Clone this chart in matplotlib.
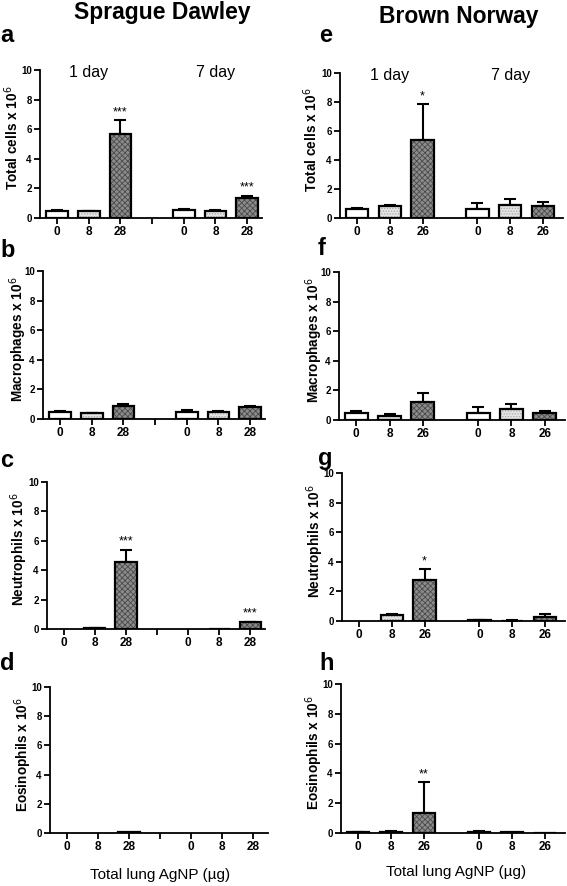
import matplotlib
matplotlib.use("Agg")
import matplotlib.pyplot as plt
import numpy as np

plt.rcParams['font.family'] = ['Liberation Sans', 'DejaVu Sans']
plt.rcParams['hatch.linewidth'] = 0.6

W, H = 567, 886

# ---------------- data ----------------
doses_sd = ["0", "8", "28"]
doses_bn = ["0", "8", "26"]

# Sprague Dawley (day1 x3, day7 x3)
sd_total = [0.5, 0.45, 5.7, 0.55, 0.5, 1.35]
sd_total_err = [0.05, 0.03, 0.9, 0.07, 0.04, 0.15]
sd_total_sig = ["", "", "***", "", "", "***"]

sd_macro = [0.5, 0.4, 0.9, 0.5, 0.45, 0.8]
sd_macro_err = [0.05, 0.03, 0.12, 0.08, 0.06, 0.08]
sd_macro_sig = ["", "", "", "", "", ""]

sd_neut = [0.0, 0.05, 4.55, 0.0, 0.02, 0.45]
sd_neut_err = [0.0, 0.03, 0.85, 0.0, 0.01, 0.06]
sd_neut_sig = ["", "", "***", "", "", "***"]

sd_eos = [0.0, 0.0, 0.05, 0.0, 0.0, 0.0]
sd_eos_err = [0.0, 0.0, 0.01, 0.0, 0.0, 0.0]
sd_eos_sig = ["", "", "", "", "", ""]

# Brown Norway
bn_total = [0.6, 0.8, 5.4, 0.65, 0.9, 0.85]
bn_total_err = [0.08, 0.12, 2.45, 0.4, 0.4, 0.25]
bn_total_sig = ["", "", "*", "", "", ""]

bn_macro = [0.5, 0.3, 1.2, 0.5, 0.75, 0.5]
bn_macro_err = [0.1, 0.08, 0.65, 0.4, 0.35, 0.12]
bn_macro_sig = ["", "", "", "", "", ""]

bn_neut = [0.0, 0.4, 2.75, 0.05, 0.03, 0.25]
bn_neut_err = [0.0, 0.05, 0.75, 0.03, 0.03, 0.2]
bn_neut_sig = ["", "", "*", "", "", ""]

bn_eos = [0.05, 0.08, 1.35, 0.08, 0.05, 0.02]
bn_eos_err = [0.03, 0.04, 2.05, 0.04, 0.02, 0.02]
bn_eos_sig = ["", "", "**", "", "", ""]

ylabels = ["Total cells x 10$^{6}$", "Macrophages x 10$^{6}$",
           "Neutrophils x 10$^{6}$", "Eosinophils x 10$^{6}$"]

pos_sd = [0, 1, 2, 4, 5, 6]
pos_bn = [0, 1, 2, 3.67, 4.67, 5.67]

face = ["#ffffff", "#e4e4e4", "#8c8c8c"]
hatchc = ["#ffffff", "#a8a8a8", "#4a4a4a"]
hatches = [None, "......", "xxxxxx"]

fig = plt.figure(figsize=(W / 100, H / 100), dpi=100)


def add_ax(l, r, t, b):
    return fig.add_axes([l / W, 1 - b / H, (r - l) / W, (b - t) / H])


def ftext(x, y, s, **kw):
    fig.text(x / W, 1 - y / H, s, **kw)


def draw(ax, pos, vals, errs, sig, labels, xlim, gap_tick):
    for i, (p, v, e) in enumerate(zip(pos, vals, errs)):
        k = i % 3
        if v > 0:
            ax.bar(p, v, width=0.68, color=face[k], edgecolor=hatchc[k],
                   hatch=hatches[k], linewidth=0, zorder=2)
            ax.bar(p, v, width=0.68, fill=False, edgecolor="black",
                   linewidth=1.6, zorder=3)
        if e > 0.02:
            ax.errorbar(p, v, yerr=[[0], [e]], fmt="none", ecolor="black",
                        elinewidth=1.5, capsize=4, capthick=1.5, zorder=1)
        if sig[i]:
            ax.text(p, v + e + 0.55, sig[i], ha="center", va="center",
                    fontsize=9)
    ax.set_xlim(*xlim)
    ax.set_ylim(0, 10)
    ax.set_yticks([0, 2, 4, 6, 8, 10])
    ticks = list(pos)
    tlabels = labels + labels
    if gap_tick is not None:
        ticks = ticks + [gap_tick]
        tlabels = tlabels + [""]
    ax.set_xticks(ticks)
    ax.set_xticklabels(tlabels, fontweight="bold", fontsize=8.5)
    for t in ax.get_yticklabels():
        t.set_fontweight("bold")
        t.set_fontsize(7)
    ax.spines["top"].set_visible(False)
    ax.spines["right"].set_visible(False)
    ax.spines["left"].set_linewidth(1.3)
    ax.spines["bottom"].set_linewidth(1.3)
    ax.tick_params(axis="both", width=1.3, length=4, pad=2)


left_boxes = [(40, 262, 70, 218), (43, 265, 271, 419),
              (47, 265, 482, 629), (50, 268, 687, 833)]
right_boxes = [(340, 563, 73, 218), (339, 565, 272, 420),
               (342, 565, 473, 621), (341, 565, 684, 833)]
left_ylab_x = [12, 18, 19, 23]
right_ylab_x = [311, 314, 315, 314]

sd_sets = [(sd_total, sd_total_err, sd_total_sig),
           (sd_macro, sd_macro_err, sd_macro_sig),
           (sd_neut, sd_neut_err, sd_neut_sig),
           (sd_eos, sd_eos_err, sd_eos_sig)]
bn_sets = [(bn_total, bn_total_err, bn_total_sig),
           (bn_macro, bn_macro_err, bn_macro_sig),
           (bn_neut, bn_neut_err, bn_neut_sig),
           (bn_eos, bn_eos_err, bn_eos_sig)]

axes_l, axes_r = [], []
for i in range(4):
    l, r, t, b = left_boxes[i]
    ax = add_ax(l, r, t, b)
    draw(ax, pos_sd, *sd_sets[i], doses_sd, (-0.54, 6.47), 3)
    ftext(left_ylab_x[i], (t + b) / 2 - 6, ylabels[i], rotation=90,
          ha="center", va="center", fontsize=9.8, fontweight="bold")
    axes_l.append(ax)
    l, r, t, b = right_boxes[i]
    ax = add_ax(l, r, t, b)
    draw(ax, pos_bn, *bn_sets[i], doses_bn, (-0.52, 6.28), None)
    ftext(right_ylab_x[i], (t + b) / 2 - 6, ylabels[i], rotation=90,
          ha="center", va="center", fontsize=9.8, fontweight="bold")
    axes_r.append(ax)

# day labels
axes_l[0].text(1.0, 9.85, "1 day", ha="center", va="center", fontsize=11.5)
axes_l[0].text(5.0, 9.85, "7 day", ha="center", va="center", fontsize=11.5)
axes_r[0].text(1.0, 9.85, "1 day", ha="center", va="center", fontsize=11.5)
axes_r[0].text(4.67, 9.85, "7 day", ha="center", va="center", fontsize=11.5)

ftext(162, 19, "Sprague Dawley", ha="center", va="baseline",
      fontsize=16.5, fontweight="bold")
ftext(459, 23, "Brown Norway", ha="center", va="baseline",
      fontsize=16.5, fontweight="bold")

letters = [("a", 0, 42), ("b", 0, 257), ("c", 0, 467), ("d", 0, 670),
           ("e", 319, 42), ("f", 318, 255), ("g", 318, 465), ("h", 319, 670)]
for s, x, y in letters:
    ftext(x, y, s, ha="left", va="baseline", fontsize=17, fontweight="bold")

ftext(160, 879, "Total lung AgNP (\u00b5g)", ha="center", va="baseline",
      fontsize=11)
ftext(456, 876, "Total lung AgNP (\u00b5g)", ha="center", va="baseline",
      fontsize=11)

fig.savefig("out.png", dpi=100)
